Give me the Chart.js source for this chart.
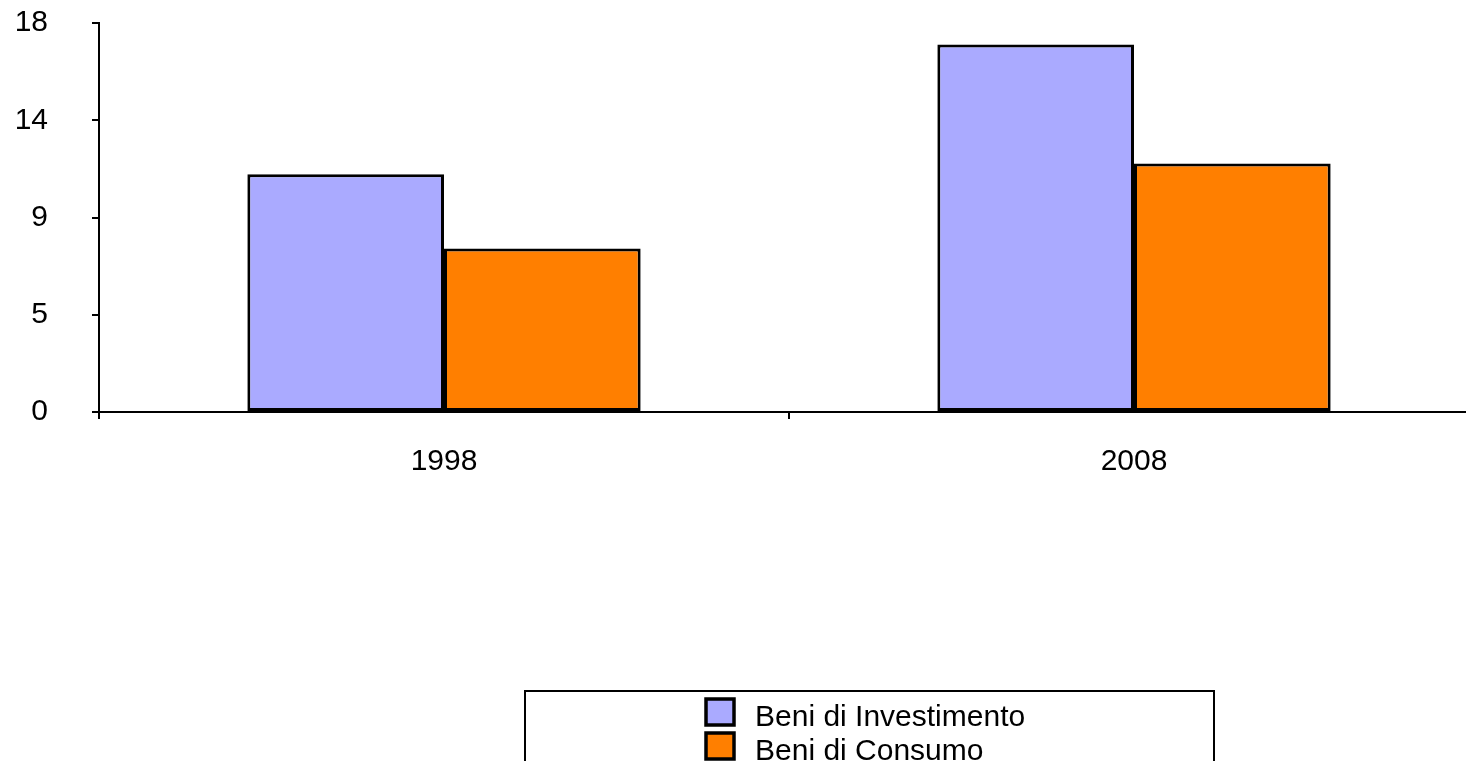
<!DOCTYPE html>
<html>
<head>
<meta charset="utf-8">
<script src="https://cdn.jsdelivr.net/npm/chart.js@4/dist/chart.umd.min.js"></script>
<style>
  html, body { margin: 0; padding: 0; background: #fff; overflow: hidden; }
  #wrap { width: 1480px; height: 761px; position: relative; }
</style>
</head>
<body>
<div id="wrap"><canvas id="c"></canvas></div>
<script>
const categories = ['1998', '2008'];
const seriesNames = ['Beni di Investimento', 'Beni di Consumo'];
const investimento = [11.0, 17.0];
const consumo = [7.56, 11.5];
const yTickValues = [0, 4.5, 9, 13.5, 18];

const FONT = '"Liberation Sans", Arial, sans-serif';

const boxLegend = {
  id: 'boxLegend',
  afterDraw(chart) {
    const ctx = chart.ctx;
    ctx.save();
    ctx.strokeStyle = '#000';
    ctx.lineWidth = 2;
    ctx.strokeRect(525, 691, 689, 120);
    chart.data.datasets.forEach((ds, i) => {
      const y = 699 + i * 34;
      ctx.fillStyle = ds.backgroundColor;
      ctx.fillRect(706, y, 28, 26);
      ctx.lineWidth = 3.5;
      ctx.strokeStyle = '#000';
      ctx.strokeRect(706, y, 28, 26);
      ctx.fillStyle = '#000';
      ctx.font = '30px ' + FONT;
      ctx.textBaseline = 'alphabetic';
      ctx.textAlign = 'left';
      ctx.fillText(ds.label, 755, 726 + i * 34);
    });
    ctx.restore();
  }
};

new Chart(document.getElementById('c'), {
  type: 'bar',
  data: {
    labels: categories,
    datasets: [
      { label: seriesNames[0], data: investimento, backgroundColor: '#AAAAFF', borderColor: '#000', borderWidth: 3, borderSkipped: false },
      { label: seriesNames[1], data: consumo, backgroundColor: '#FF7F00', borderColor: '#000', borderWidth: 3, borderSkipped: false }
    ]
  },
  options: {
    responsive: true,
    maintainAspectRatio: false,
    animation: false,
    layout: { padding: { left: 15, top: 23, right: 1, bottom: 279 } },
    datasets: { bar: { barPercentage: 1.0, categoryPercentage: 0.57 } },
    plugins: { legend: { display: false }, tooltip: { enabled: false } },
    scales: {
      x: {
        grid: { drawOnChartArea: false, drawTicks: true, tickLength: 7, color: '#000', lineWidth: 2, offset: true },
        border: { color: '#000', width: 2 },
        ticks: { color: '#000', font: { family: FONT, size: 30 }, padding: 25, maxRotation: 0 },
        afterFit: (s) => { s.height = 70; s.paddingLeft = 0; s.paddingRight = 0; }
      },
      y: {
        min: 0, max: 18,
        afterBuildTicks: (scale) => { scale.ticks = yTickValues.map(v => ({ value: v })); },
        grid: { drawOnChartArea: false, drawTicks: true, tickLength: 7, color: '#000', lineWidth: 2 },
        border: { color: '#000', width: 2 },
        ticks: { color: '#000', font: { family: FONT, size: 30 }, padding: 44, callback: (v) => String(Math.round(v)) },
        afterFit: (s) => { s.width = 84; s.paddingTop = 0; s.paddingBottom = 0; }
      }
    }
  },
  plugins: [boxLegend]
});
</script>
</body>
</html>
